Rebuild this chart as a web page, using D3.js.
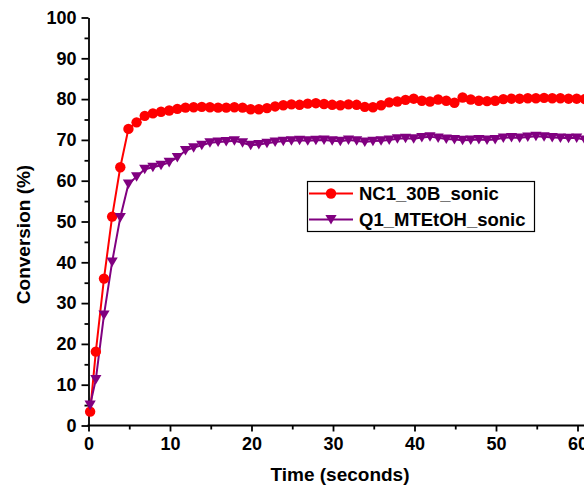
<!DOCTYPE html>
<html>
<head>
<meta charset="utf-8">
<script src="https://cdn.jsdelivr.net/npm/d3@7/dist/d3.min.js"></script>
<style>
  html, body { margin: 0; padding: 0; background: #ffffff; }
  svg { display: block; }
  text { font-family: "Liberation Sans", Arial, sans-serif; font-weight: bold; }
</style>
</head>
<body>
<svg id="chart" width="584" height="489"></svg>
<script>
// Sampling times (seconds)
const timeSec = [0.2, 0.9, 1.9, 2.9, 3.9, 4.9, 5.9, 6.9, 7.9, 8.9, 9.9,
  10.9, 11.9, 12.9, 13.9, 14.9, 15.9, 16.9, 17.9, 18.9, 19.9,
  20.9, 21.9, 22.9, 23.9, 24.9, 25.9, 26.9, 27.9, 28.9, 29.9,
  30.9, 31.9, 32.9, 33.9, 34.9, 35.9, 36.9, 37.9, 38.9, 39.9,
  40.9, 41.9, 42.9, 43.9, 44.9, 45.9, 46.9, 47.9, 48.9, 49.9,
  50.9, 51.9, 52.9, 53.9, 54.9, 55.9, 56.9, 57.9, 58.9, 59.9, 60.9];

// Conversion (%) for NC1_30B_sonic
const nc1Conversion = [3.4, 18.1, 36.0, 51.2, 63.3, 72.7, 74.3, 75.9, 76.5, 76.9, 77.2,
  77.6, 77.9, 78.0, 78.1, 78.0, 77.9, 77.9, 78.0, 77.9, 77.5,
  77.5, 77.8, 78.2, 78.5, 78.7, 78.6, 78.9, 79.0, 78.8, 78.6,
  78.5, 78.7, 78.6, 78.1, 78.0, 78.5, 79.2, 79.4, 79.8, 80.1,
  79.6, 79.4, 79.9, 79.6, 79.1, 80.4, 79.9, 79.6, 79.5, 79.6,
  80.0, 80.1, 80.1, 80.2, 80.2, 80.3, 80.2, 80.2, 80.1, 80.1, 80.0];

// Conversion (%) for Q1_MTEtOH_sonic
const q1Conversion = [5.0, 11.3, 27.1, 40.1, 51.0, 59.2, 61.0, 62.8, 63.3, 63.8, 64.5,
  65.7, 67.4, 68.1, 68.7, 69.3, 69.5, 69.6, 69.8, 69.3, 68.7,
  68.9, 69.2, 69.5, 69.7, 69.8, 69.9, 69.8, 69.9, 70.0, 69.8,
  69.7, 70.0, 69.8, 69.5, 69.7, 69.8, 70.0, 70.3, 70.4, 70.3,
  70.6, 70.8, 70.5, 70.2, 70.1, 69.9, 70.0, 70.1, 70.0, 70.1,
  70.5, 70.6, 70.5, 70.7, 70.9, 70.8, 70.6, 70.5, 70.4, 70.5, 70.0];

const seriesNames = ["NC1_30B_sonic", "Q1_MTEtOH_sonic"];
const seriesColors = ["#ff0000", "#800080"];

const xMajorTicks = [0, 10, 20, 30, 40, 50, 60];
const xMinorTicks = [5, 15, 25, 35, 45, 55];
const yMajorTicks = [0, 10, 20, 30, 40, 50, 60, 70, 80, 90, 100];
const yMinorTicks = [5, 15, 25, 35, 45, 55, 65, 75, 85, 95];

const svg = d3.select("#chart");
const W = 584, H = 489;

const x = d3.scaleLinear().domain([0, 60]).range([88.5, 577.5]);
const y = d3.scaleLinear().domain([0, 100]).range([425.5, 17.5]);

const axisColor = "#000";
const axisWidth = 1.8;

// Y axis: major + minor ticks
const yAxisG = svg.append("g").attr("transform", `translate(${x(0)},0)`)
  .call(d3.axisLeft(y).tickValues(yMajorTicks).tickSize(7).tickPadding(5).tickSizeOuter(0));
svg.append("g").attr("transform", `translate(${x(0)},0)`)
  .call(d3.axisLeft(y).tickValues(yMinorTicks).tickSize(4).tickFormat("").tickSizeOuter(0))
  .call(g => g.select(".domain").remove());

// X axis: major + minor ticks
const xAxisG = svg.append("g").attr("transform", `translate(0,${y(0)})`)
  .call(d3.axisBottom(x).tickValues(xMajorTicks).tickSize(6).tickPadding(6).tickSizeOuter(0));
svg.append("g").attr("transform", `translate(0,${y(0)})`)
  .call(d3.axisBottom(x).tickValues(xMinorTicks).tickSize(4).tickFormat("").tickSizeOuter(0))
  .call(g => g.select(".domain").remove());

// Bottom axis line runs out to the right edge
xAxisG.select(".domain").remove();
svg.append("line")
  .attr("x1", x(0) - 1).attr("x2", W + 2)
  .attr("y1", y(0)).attr("y2", y(0))
  .attr("stroke", axisColor).attr("stroke-width", axisWidth);

svg.selectAll(".tick line").attr("stroke", axisColor).attr("stroke-width", axisWidth);
yAxisG.select(".domain").attr("stroke", axisColor).attr("stroke-width", axisWidth);
svg.selectAll(".tick text")
  .attr("fill", "#000")
  .style("font-size", "18px")
  .style("font-family", "'Liberation Sans', Arial, sans-serif")
  .style("font-weight", "bold");

// Axis titles
svg.append("text")
  .attr("x", 340).attr("y", 481)
  .attr("text-anchor", "middle")
  .style("font-size", "19px")
  .attr("fill", "#000")
  .text("Time (seconds)");

svg.append("text")
  .attr("transform", `translate(30,${y(50) + 13}) rotate(-90)`)
  .attr("text-anchor", "middle")
  .style("font-size", "19px")
  .attr("fill", "#000")
  .text("Conversion (%)");

// Series
const allSeries = [nc1Conversion, q1Conversion];
const line = d3.line().x((d, i) => x(timeSec[i])).y(d => y(d));
const plot = svg.append("g");

const circleSym = d3.symbol().type(d3.symbolCircle).size(Math.PI * 5.2 * 5.2);
// downward triangle
const triPath = (s) => `M${-s},${-s * 0.8}L${s},${-s * 0.8}L0,${s * 0.9}Z`;

allSeries.forEach((vals, si) => {
  plot.append("path")
    .datum(vals)
    .attr("fill", "none")
    .attr("stroke", seriesColors[si])
    .attr("stroke-width", 2)
    .attr("d", line);
});

allSeries.forEach((vals, si) => {
  const g = plot.append("g");
  g.selectAll("path.m")
    .data(vals)
    .join("path")
    .attr("class", "m")
    .attr("transform", (d, i) => `translate(${x(timeSec[i])},${y(d)})`)
    .attr("fill", seriesColors[si])
    .attr("d", si === 0 ? circleSym() : triPath(5.6));
});

// Legend
const legend = svg.append("g");
legend.append("rect")
  .attr("x", 307.5).attr("y", 181.5)
  .attr("width", 227).attr("height", 50)
  .attr("fill", "#fff").attr("stroke", "#000").attr("stroke-width", 1.2);

const rowY = [193.5, 219.5];
seriesNames.forEach((name, si) => {
  const ly = rowY[si];
  legend.append("line")
    .attr("x1", 309).attr("x2", 353).attr("y1", ly).attr("y2", ly)
    .attr("stroke", seriesColors[si]).attr("stroke-width", 1.8);
  legend.append("path")
    .attr("transform", `translate(331,${ly})`)
    .attr("fill", seriesColors[si])
    .attr("d", si === 0 ? circleSym() : triPath(5.6));
  legend.append("text")
    .attr("x", 359).attr("y", ly + 6.5)
    .style("font-size", "18.5px")
    .attr("fill", "#000")
    .text(name);
});
</script>
</body>
</html>
